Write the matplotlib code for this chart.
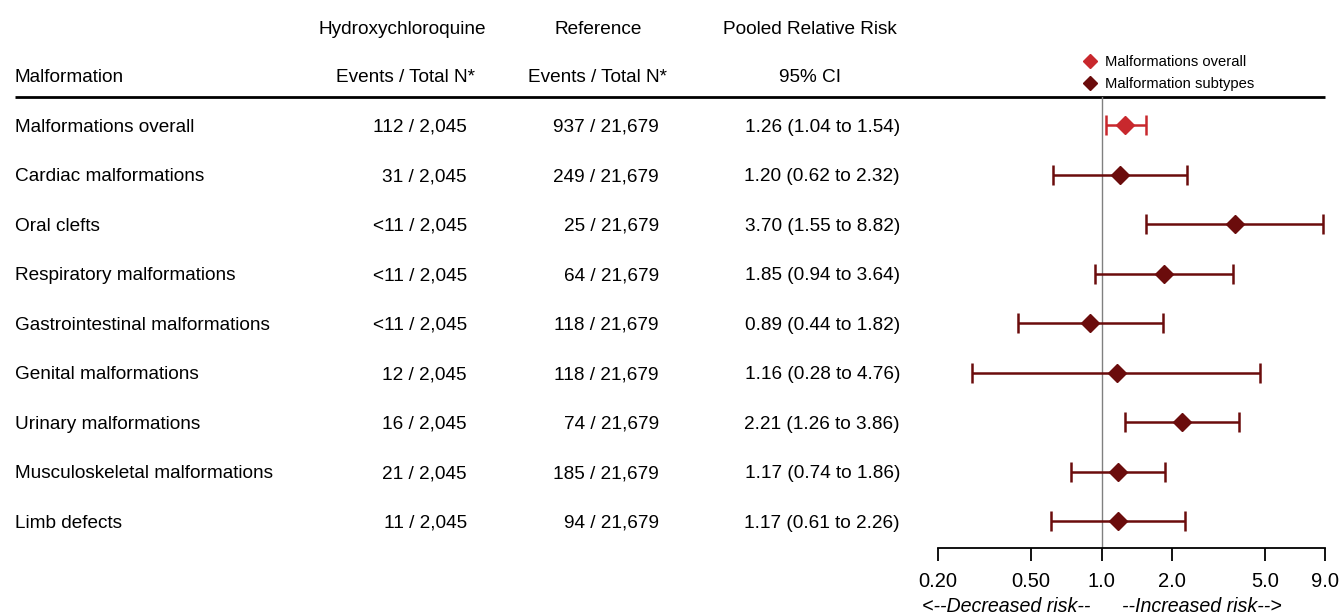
import numpy as np
import matplotlib
matplotlib.use('Agg')
import matplotlib.pyplot as plt
from matplotlib.lines import Line2D

plt.rcParams['font.family'] = ['Liberation Sans', 'DejaVu Sans']

# %% data

malformations = ['Malformations overall', 'Cardiac malformations', 'Oral clefts',
                 'Respiratory malformations', 'Gastrointestinal malformations',
                 'Genital malformations', 'Urinary malformations',
                 'Musculoskeletal malformations', 'Limb defects']
hcq_events = ['112 / 2,045', '31 / 2,045', '<11 / 2,045', '<11 / 2,045', '<11 / 2,045',
              '12 / 2,045', '16 / 2,045', '21 / 2,045', '11 / 2,045']
ref_events = ['937 / 21,679', '249 / 21,679', '25 / 21,679', '64 / 21,679', '118 / 21,679',
              '118 / 21,679', '74 / 21,679', '185 / 21,679', '94 / 21,679']
rr = np.array([1.26, 1.20, 3.70, 1.85, 0.89, 1.16, 2.21, 1.17, 1.17])
lo = np.array([1.04, 0.62, 1.55, 0.94, 0.44, 0.28, 1.26, 0.74, 0.61])
hi = np.array([1.54, 2.32, 8.82, 3.64, 1.82, 4.76, 3.86, 1.86, 2.26])
xticks = [0.2, 0.5, 1.0, 2.0, 5.0, 9.0]
xtick_labels = ['0.20', '0.50', '1.0', '2.0', '5.0', '9.0']

c_overall = '#c8282d'
c_sub = '#6b0c0c'
fs = 13.7

# %% layout (rows in "row units", figure in pixels)

W, H = 1341, 616
row0, drow = 125, 49.5
def row(px):
    return (px - row0) / drow

fig = plt.figure(figsize=(W / 100, H / 100), dpi=100)
ax_t = fig.add_axes([0, 0, 1, 1])
ax_t.set_xlim(0, W)
ax_t.set_ylim(row(H), row(0))
ax_t.axis('off')

ax_f = fig.add_axes([938 / W, (H - 548) / H, (1325 - 938) / W, (548 - 97) / H])
ax_f.set_xscale('log')
ax_f.set_xlim(0.2, 9.0)
ax_f.set_ylim(row(548), row(97))
ax_f.patch.set_alpha(0)

# table headers
ax_t.text(402, row(29), 'Hydroxychloroquine', ha='center', va='center', fontsize=fs)
ax_t.text(598, row(29), 'Reference', ha='center', va='center', fontsize=fs)
ax_t.text(810, row(29), 'Pooled Relative Risk', ha='center', va='center', fontsize=fs)
ax_t.text(15, row(78), 'Malformation', ha='left', va='center', fontsize=fs)
ax_t.text(406, row(78), 'Events / Total N*', ha='center', va='center', fontsize=fs)
ax_t.text(598, row(78), 'Events / Total N*', ha='center', va='center', fontsize=fs)
ax_t.text(810, row(78), '95% CI', ha='center', va='center', fontsize=fs)
ax_t.plot([15, 1325], [row(97), row(97)], color='black', lw=2, solid_capstyle='butt')

# table rows
for i, name in enumerate(malformations):
    y = i + 0.05
    ax_t.text(15, y, name, ha='left', va='center', fontsize=fs)
    ax_t.text(467, y, hcq_events[i], ha='right', va='center', fontsize=fs)
    ax_t.text(659, y, ref_events[i], ha='right', va='center', fontsize=fs)
    ax_t.text(900, y, '%.2f (%.2f to %.2f)' % (rr[i], lo[i], hi[i]),
              ha='right', va='center', fontsize=fs)

# forest
ax_f.axvline(1.0, color='#808080', lw=1, zorder=1)
for i in range(len(rr)):
    c = c_overall if i == 0 else c_sub
    ax_f.errorbar(rr[i], i, xerr=[[rr[i] - lo[i]], [hi[i] - rr[i]]], fmt='D', color=c,
                  ms=9, elinewidth=1.8, capsize=7, capthick=1.8, zorder=3)

for s in ['top', 'right', 'left']:
    ax_f.spines[s].set_visible(False)
ax_f.spines['bottom'].set_linewidth(1.3)
ax_f.set_yticks([])
ax_f.set_xticks(xticks)
ax_f.set_xticklabels(xtick_labels, fontsize=14.5)
ax_f.xaxis.set_minor_locator(matplotlib.ticker.NullLocator())
ax_f.tick_params(axis='x', direction='out', length=9, width=1.3, pad=8)

ax_t.text(1090, row(607), '<--Decreased risk--', ha='right', va='center',
          fontsize=14.1, style='italic')
ax_t.text(1122, row(607), '--Increased risk-->', ha='left', va='center',
          fontsize=14.1, style='italic')

handles = [Line2D([], [], marker='D', color=c_overall, ls='none', ms=7),
           Line2D([], [], marker='D', color=c_sub, ls='none', ms=7)]
fig.legend(handles, ['Malformations overall', 'Malformation subtypes'],
           loc='upper left', bbox_to_anchor=(1083 / W, 1 - 55 / H), frameon=False,
           fontsize=10.6, handlelength=1, handletextpad=0.5, labelspacing=0.55,
           borderaxespad=0, borderpad=0)

fig.savefig('out.png', dpi=100)
